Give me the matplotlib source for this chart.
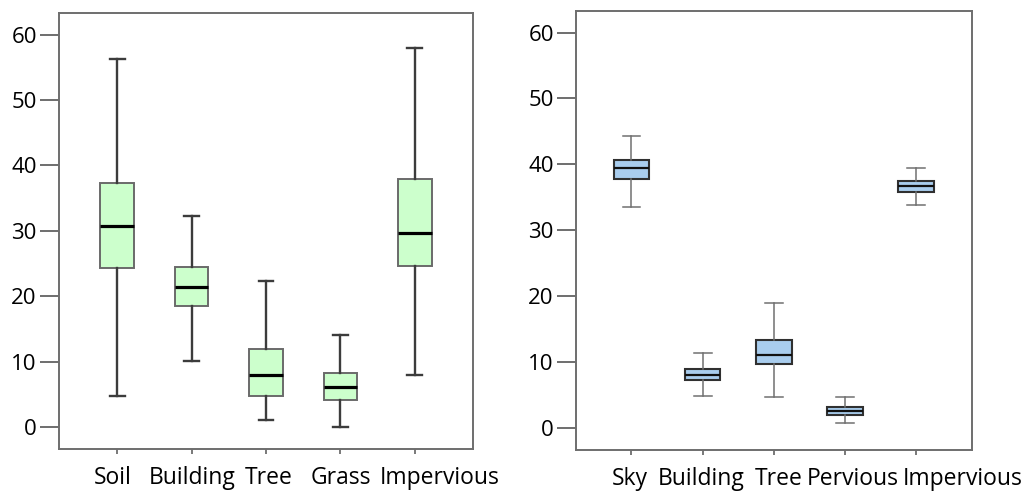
import matplotlib
matplotlib.use('Agg')
import matplotlib.pyplot as plt
from matplotlib.transforms import ScaledTranslation

plt.rcParams['font.family'] = ['Open Sans', 'DejaVu Sans']

# left panel
left_labels = ['Soil', 'Building', 'Tree', 'Grass', 'Impervious']
left_low = [4.8, 10.1, 1.1, 0.05, 7.9]
left_q1 = [24.3, 18.5, 4.8, 4.1, 24.6]
left_med = [30.7, 21.4, 7.9, 6.1, 29.7]
left_q3 = [37.3, 24.4, 12.0, 8.2, 38.0]
left_high = [56.2, 32.3, 22.3, 14.1, 57.9]

# right panel
right_labels = ['Sky', 'Building', 'Tree', 'Pervious', 'Impervious']
right_low = [33.5, 4.8, 4.7, 0.7, 33.9]
right_q1 = [37.7, 7.2, 9.7, 2.0, 35.8]
right_med = [39.5, 8.0, 11.1, 2.5, 36.7]
right_q3 = [40.6, 8.9, 13.4, 3.1, 37.4]
right_high = [44.3, 11.4, 18.9, 4.65, 39.5]

yticks = [0, 10, 20, 30, 40, 50, 60]


def make_stats(labels, low, q1, med, q3, high):
    stats = []
    for i in range(len(labels)):
        stats.append({'label': labels[i], 'whislo': low[i], 'q1': q1[i], 'med': med[i],
                      'q3': q3[i], 'whishi': high[i], 'fliers': []})
    return stats


def style_axes(ax, shifts):
    ax.set_xlim(0.22, 5.78)
    ax.set_ylim(-3.35, 63.3)
    ax.set_yticks(yticks)
    for sp in ax.spines.values():
        sp.set_color('#6e6e6e')
        sp.set_linewidth(1.4)
    ax.tick_params(axis='y', length=14, width=1.4, color='#6e6e6e', pad=2, labelsize=16)
    ax.tick_params(axis='x', length=3.5, width=1.3, color='#6e6e6e', pad=9, labelsize=16.5)
    # the labels in the original are not quite centred under the ticks
    for lab, dx in zip(ax.get_xticklabels(), shifts):
        lab.set_transform(lab.get_transform() + ScaledTranslation(dx / 100, 0, fig.dpi_scale_trans))


fig = plt.figure(figsize=(10.26, 4.91), dpi=100)
ax1 = fig.add_axes([0.0575, 0.0855, 0.4035, 0.888])
ax2 = fig.add_axes([0.5614, 0.0835, 0.3856, 0.8945])

ax1.bxp(make_stats(left_labels, left_low, left_q1, left_med, left_q3, left_high),
        positions=range(1, 6), widths=0.45, showfliers=False, patch_artist=True,
        boxprops=dict(facecolor='#ccffcc', edgecolor='#6a6a6a', linewidth=1.4),
        whiskerprops=dict(color='#3c3c3c', linewidth=1.7),
        capprops=dict(color='#3c3c3c', linewidth=1.7),
        capwidths=0.2,
        medianprops=dict(color='black', linewidth=2.3))
style_axes(ax1, [-4, 1, 3, 0, 25])

ax2.bxp(make_stats(right_labels, right_low, right_q1, right_med, right_q3, right_high),
        positions=range(1, 6), widths=0.5, showfliers=False, patch_artist=True,
        boxprops=dict(facecolor='#a9cdee', edgecolor='#303030', linewidth=1.5),
        whiskerprops=dict(color='#707070', linewidth=1.1),
        capprops=dict(color='#707070', linewidth=1.1),
        capwidths=0.25,
        medianprops=dict(color='#111111', linewidth=1.6))
style_axes(ax2, [-2, -1, 5, 8, 47])

plt.savefig('out.png', dpi=100)
